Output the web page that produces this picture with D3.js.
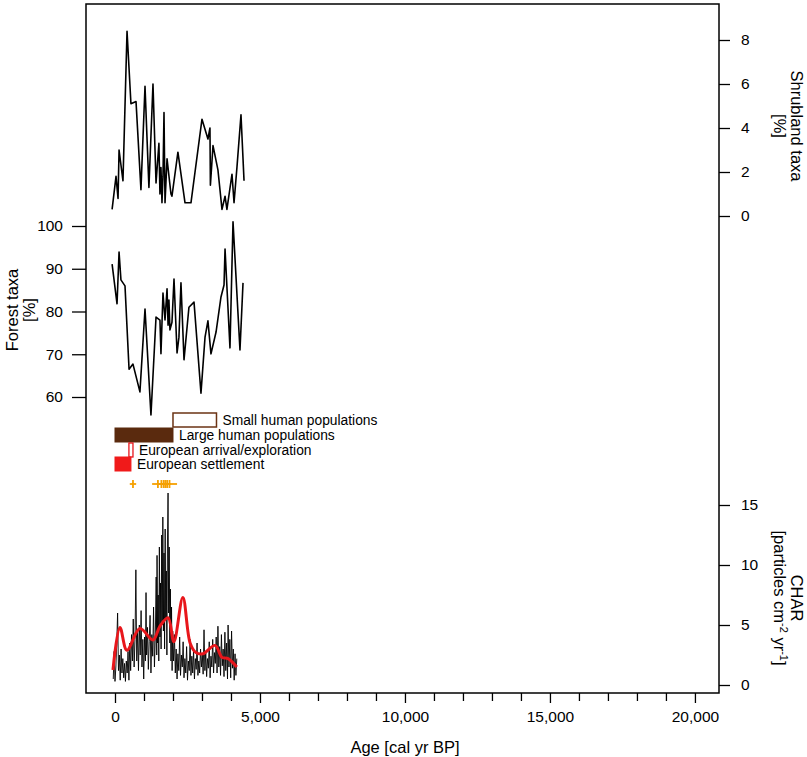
<!DOCTYPE html>
<html lang="en">
  <head>
    <meta charset="UTF-8" />
    <title>Pollen and charcoal record</title>
    <script src="https://d3js.org/d3.v7.min.js"></script>
    <style>
      body {
        margin: 0;
        background: #fff;
        font-family: "Liberation Sans", Arial, sans-serif;
      }
      svg text {
        fill: #000;
      }
    </style>
  </head>
  <body>
    <svg id="chart" width="807" height="757"></svg>
    <script>
      // shrubland taxa (%)
      const shrubAge = [-100, 35, 105, 140, 275, 415, 550, 725, 895, 1035, 1170, 1310, 1415, 1515, 1550, 1585, 1620, 1655, 1690, 1725, 1795, 1930, 1965, 2170, 2415, 2620, 3000, 3205, 3275, 3290, 3380, 3550, 3690, 3795, 3860, 4035, 4105, 4205, 4345, 4450];
      const shrubVal = [0.3, 1.8, 0.8, 3.0, 1.6, 8.4, 5.1, 5.2, 1.2, 5.9, 1.3, 6.0, 1.5, 3.3, 1.0, 2.2, 0.6, 1.8, 4.7, 0.6, 2.6, 1.0, 0.9, 2.9, 0.6, 0.6, 4.4, 3.5, 4.0, 1.4, 3.2, 2.1, 0.3, 0.9, 0.3, 1.9, 0.6, 2.2, 4.6, 1.6];

      // forest taxa (%)
      const forestAge = [-100, 70, 140, 205, 345, 485, 620, 860, 1035, 1240, 1415, 1550, 1585, 1655, 1725, 1795, 1830, 1860, 1895, 1965, 2035, 2140, 2205, 2275, 2380, 2550, 2725, 2965, 3105, 3205, 3310, 3485, 3655, 3760, 3795, 3965, 4070, 4310, 4415];
      const forestVal = [91.1, 81.8, 93.9, 87.4, 86.0, 66.5, 67.7, 61.2, 80.6, 55.8, 78.7, 78.0, 70.1, 84.3, 78.0, 85.3, 76.8, 82.7, 75.7, 77.5, 87.6, 70.3, 74.0, 86.7, 68.7, 81.0, 82.2, 60.9, 74.0, 77.8, 70.1, 75.2, 83.4, 86.2, 94.6, 71.5, 101.0, 71.0, 86.7];

      // charcoal accumulation rate
      const charAge = [-60, -30, 0, 30, 60, 90, 120, 150, 180, 210, 240, 270, 300, 330, 360, 390, 420, 450, 480,
        510, 540, 570, 600, 630, 660, 690, 720, 750, 780, 810, 840, 870, 900, 930, 960, 990,
        1020, 1050, 1070, 1090, 1120, 1150, 1180, 1210, 1240, 1270, 1300, 1330, 1360, 1390,
        1420, 1440, 1450, 1470, 1490, 1510, 1530, 1550, 1570, 1590, 1610, 1630, 1650, 1670, 1690, 1710, 1730, 1750, 1770, 1790, 1810, 1830, 1850, 1870, 1890, 1910, 1930, 1950, 1970, 1990,
        2020, 2050, 2080, 2110, 2140, 2170, 2200, 2230, 2260, 2290, 2320, 2350, 2380, 2410, 2440, 2470, 2500, 2530, 2560, 2590, 2620, 2650, 2680, 2710, 2740, 2770, 2800, 2830, 2860, 2890, 2920, 2950, 2980,
        3010, 3040, 3070, 3100, 3130, 3160, 3190, 3220, 3250, 3280, 3310, 3340, 3370, 3400, 3430, 3460, 3490, 3520, 3550, 3580, 3610, 3640, 3670, 3700, 3730, 3760, 3790, 3820, 3850, 3880, 3900, 3930, 3960, 3990,
        4020, 4050, 4080, 4110, 4140, 4170, 4200];
      const charVal = [0.5, 2.8, 0.3, 1.5, 3.5, 6.0, 1.2, 2.5, 0.4, 3.0, 1.0, 2.2, 0.6, 1.8, 0.3, 2.0, 1.0, 2.8, 0.4,
        3.5, 1.2, 4.2, 2.0, 5.5, 1.5, 3.8, 9.6, 2.0, 4.5, 1.2, 5.0, 2.5, 6.2, 1.5, 3.8, 0.5,
        4.0, 2.0, 7.7, 2.5, 4.8, 1.3, 3.6, 5.8, 1.0, 4.2, 2.4, 6.5, 1.5, 4.0,
        9.0, 2.5, 10.8, 3.5, 7.5, 2.0, 11.5, 4.0, 8.5, 3.0, 12.5, 5.0, 14.0, 4.5, 11.0, 3.0, 13.0, 5.5, 9.5, 2.5, 12.0, 16.0, 6.0, 11.5, 3.5, 8.0, 2.0, 6.5, 1.2, 4.5,
        2.0, 4.2, 1.0, 3.0, 0.5, 2.6, 1.2, 4.0, 0.8, 2.5, 1.5, 3.6, 0.6, 2.2, 1.0, 3.2, 0.4, 2.0, 1.2, 3.8, 0.8, 2.4, 1.0, 2.9, 0.5, 2.2, 1.3, 3.5, 0.8, 2.0, 1.0, 3.0, 1.5,
        2.6, 0.9, 4.6, 1.2, 2.8, 0.7, 2.2, 1.4, 3.6, 0.6, 2.4, 1.5, 3.8, 1.0, 2.7, 1.8, 4.0, 1.0, 4.9, 1.5, 3.2, 0.8, 4.2, 1.6, 3.0, 0.7, 4.4, 1.2, 3.5, 0.5, 5.0, 1.5, 3.8, 0.6,
        4.5, 1.4, 3.0, 0.4, 2.6, 0.8, 2.2];

      // smoothed CHAR background
      const smoothAge = [-70, 170, 410, 860, 1310, 1550, 1830, 2030, 2340, 2590, 2790, 3030, 3450, 3690, 3900, 4200];
      const smoothVal = [1.25, 4.8, 2.9, 4.7, 3.75, 4.9, 5.6, 3.6, 7.3, 3.5, 2.7, 2.6, 3.3, 2.3, 2.2, 1.5];

      // human / settlement periods
      const periods = [
        { label: "Small human populations", start: 2000, end: 3500, row: 0, kind: "smallHuman" },
        { label: "Large human populations", start: 0, end: 2000, row: 1, kind: "largeHuman" },
        { label: "European arrival/exploration", start: 480, end: 620, row: 2, kind: "arrival" },
        { label: "European settlement", start: 0, end: 550, row: 3, kind: "settlement" },
      ];

      // radiocarbon dates
      const dateAge = [620, 1480, 1600, 1680, 1740, 1800, 1880];
      const dateErr = [110, 200, 120, 100, 90, 120, 260];

      const xTicks = [0, 5000, 10000, 15000, 20000];
      const xMinorTicks = [1000, 2000, 3000, 4000, 6000, 7000, 8000, 9000, 11000, 12000, 13000, 14000, 16000, 17000, 18000, 19000];
      const shrubTicks = [0, 2, 4, 6, 8];
      const forestTicks = [60, 70, 80, 90, 100];
      const charTicks = [0, 5, 10, 15];

      const svg = d3.select("#chart");
      const frame = { left: 86, right: 719, top: 4, bottom: 693 };

      const x = d3.scaleLinear().domain([-1000, 20830]).range([frame.left, frame.right]);
      const yShrub = d3.scaleLinear().domain([0, 8]).range([216, 40]);
      const yForest = d3.scaleLinear().domain([60, 100]).range([397, 226]);
      const yChar = d3.scaleLinear().domain([0, 15]).range([685, 505]);

      const font = '"Liberation Sans", Arial, sans-serif';
      const titleSize = 16.5;

      // frame
      svg.append("rect")
        .attr("x", frame.left)
        .attr("y", frame.top)
        .attr("width", frame.right - frame.left)
        .attr("height", frame.bottom - frame.top)
        .attr("fill", "none")
        .attr("stroke", "#000")
        .attr("stroke-width", 1.5);

      function styleAxis(g) {
        g.select(".domain").remove();
        g.selectAll("line").attr("stroke", "#000").attr("stroke-width", 1.3);
        g.selectAll("text").attr("font-family", font).attr("font-size", 15.5).attr("fill", "#000");
      }

      // axes
      svg.append("g")
        .attr("transform", `translate(${frame.right},0)`)
        .call(d3.axisRight(yShrub).tickValues(shrubTicks).tickSize(11).tickPadding(11))
        .call(styleAxis);

      svg.append("g")
        .attr("transform", `translate(${frame.left},0)`)
        .call(d3.axisLeft(yForest).tickValues(forestTicks).tickSize(14).tickPadding(9))
        .call(styleAxis);

      svg.append("g")
        .attr("transform", `translate(${frame.right},0)`)
        .call(d3.axisRight(yChar).tickValues(charTicks).tickSize(11).tickPadding(11))
        .call(styleAxis);

      svg.append("g")
        .attr("transform", `translate(0,${frame.bottom})`)
        .call(d3.axisBottom(x).tickValues(xMinorTicks).tickSize(8).tickFormat(""))
        .call(styleAxis);

      svg.append("g")
        .attr("transform", `translate(0,${frame.bottom})`)
        .call(d3.axisBottom(x).tickValues(xTicks).tickSize(10).tickPadding(8).tickFormat(d3.format(",")))
        .call(styleAxis);

      // axis titles
      svg.append("text")
        .attr("x", 405)
        .attr("y", 753)
        .attr("text-anchor", "middle")
        .attr("font-family", font)
        .attr("font-size", titleSize)
        .text("Age [cal yr BP]");

      const forestTitle = svg.append("g").attr("transform", "translate(12,310) rotate(-90)");
      forestTitle.append("text").attr("y", 6).attr("text-anchor", "middle")
        .attr("font-family", font).attr("font-size", titleSize).text("Forest taxa");
      forestTitle.append("text").attr("y", 23).attr("text-anchor", "middle")
        .attr("font-family", font).attr("font-size", titleSize).text("[%]");

      const shrubTitle = svg.append("g").attr("transform", "translate(797,126) rotate(90)");
      shrubTitle.append("text").attr("y", 6).attr("text-anchor", "middle")
        .attr("font-family", font).attr("font-size", titleSize).text("Shrubland taxa");
      shrubTitle.append("text").attr("y", 23).attr("text-anchor", "middle")
        .attr("font-family", font).attr("font-size", titleSize).text("[%]");

      const charTitle = svg.append("g").attr("transform", "translate(797,598) rotate(90)");
      charTitle.append("text").attr("y", 6).attr("text-anchor", "middle")
        .attr("font-family", font).attr("font-size", titleSize).text("CHAR");
      const unit = charTitle.append("text").attr("y", 23).attr("text-anchor", "middle")
        .attr("font-family", font).attr("font-size", titleSize);
      unit.append("tspan").text("[particles cm");
      unit.append("tspan").attr("dy", -6).attr("font-size", 11).text("-2");
      unit.append("tspan").attr("dy", 6).text(" yr");
      unit.append("tspan").attr("dy", -6).attr("font-size", 11).text("-1");
      unit.append("tspan").attr("dy", 6).text("]");

      // series lines
      const shrubLine = d3.line().x((d, i) => x(shrubAge[i])).y((d) => yShrub(d));
      svg.append("path")
        .attr("d", shrubLine(shrubVal))
        .attr("fill", "none")
        .attr("stroke", "#000")
        .attr("stroke-width", 1.6)
        .attr("stroke-linejoin", "round");

      const forestLine = d3.line().x((d, i) => x(forestAge[i])).y((d) => yForest(d));
      svg.append("path")
        .attr("d", forestLine(forestVal))
        .attr("fill", "none")
        .attr("stroke", "#000")
        .attr("stroke-width", 1.6)
        .attr("stroke-linejoin", "round");

      const charLine = d3.line().x((d, i) => x(charAge[i])).y((d) => yChar(d));
      svg.append("path")
        .attr("d", charLine(charVal))
        .attr("fill", "none")
        .attr("stroke", "#000")
        .attr("stroke-width", 0.9);

      const smoothLine = d3.line()
        .x((d, i) => x(smoothAge[i]))
        .y((d) => yChar(d))
        .curve(d3.curveCatmullRom.alpha(0.5));
      svg.append("path")
        .attr("d", smoothLine(smoothVal))
        .attr("fill", "none")
        .attr("stroke", "#e8161b")
        .attr("stroke-width", 3);

      // human periods
      const rowTop = [413, 428, 443, 457];
      const rowH = 14;
      const periodStyle = {
        smallHuman: { fill: "#fff", stroke: "#6b3314", sw: 1.5 },
        largeHuman: { fill: "#5a2a0e", stroke: "#5a2a0e", sw: 1 },
        arrival: { fill: "#fff", stroke: "#e8161b", sw: 1.3 },
        settlement: { fill: "#f01a1a", stroke: "#f01a1a", sw: 1 },
      };
      periods.forEach((p) => {
        const s = periodStyle[p.kind];
        svg.append("rect")
          .attr("x", x(p.start))
          .attr("y", rowTop[p.row])
          .attr("width", x(p.end) - x(p.start))
          .attr("height", rowH)
          .attr("fill", s.fill)
          .attr("stroke", s.stroke)
          .attr("stroke-width", s.sw);
        svg.append("text")
          .attr("x", x(p.end) + 6)
          .attr("y", rowTop[p.row] + 12)
          .attr("font-family", font)
          .attr("font-size", 13.8)
          .text(p.label);
      });

      // dates
      const dateY = 484;
      const dates = svg.append("g").attr("stroke", "#f5a000").attr("stroke-width", 1.8);
      dateAge.forEach((a, i) => {
        dates.append("line")
          .attr("x1", x(a - dateErr[i])).attr("x2", x(a + dateErr[i]))
          .attr("y1", dateY).attr("y2", dateY);
        dates.append("line")
          .attr("x1", x(a)).attr("x2", x(a))
          .attr("y1", dateY - 4).attr("y2", dateY + 4);
      });
    </script>
  </body>
</html>
